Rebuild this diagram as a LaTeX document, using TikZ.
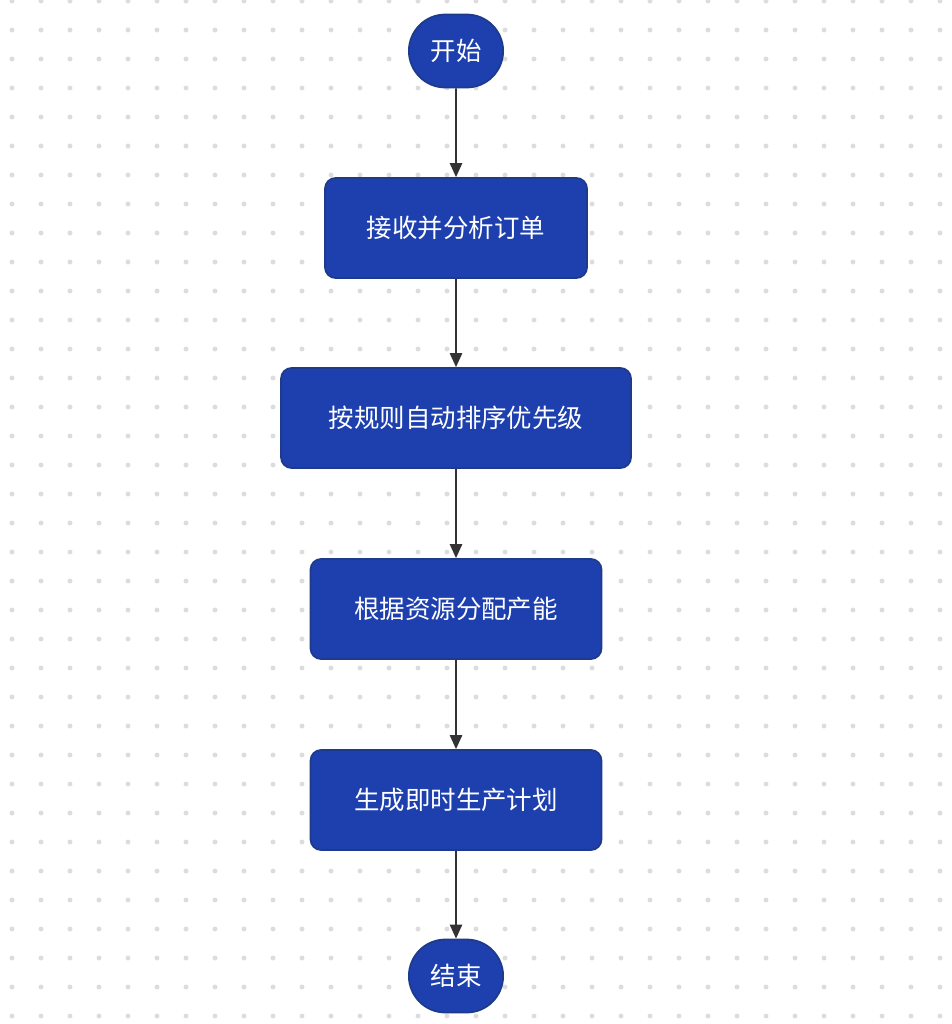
\documentclass[tikz,border=0pt]{standalone}
\usepackage{fontspec}
\newfontfamily\cjk{Noto Sans CJK SC}
\usetikzlibrary{arrows.meta}
\usetikzlibrary{shapes.misc}
\definecolor{boxblue}{HTML}{1E40AF}
\definecolor{boxedge}{HTML}{1E3A8A}
\definecolor{arrowgray}{HTML}{333333}
\definecolor{dotgray}{HTML}{DCDCDC}
\tikzset{
  procbox/.style={draw=boxedge, fill=boxblue, line width=1pt, rounded corners=6pt,
    minimum height=2cm, text=white, font=\cjk\fontsize{14.5}{17}\selectfont},
  term/.style={draw=boxedge, fill=boxblue, line width=1pt, rounded rectangle,
    minimum width=2.12cm, minimum height=1.46cm, text=white, font=\cjk\fontsize{14.5}{17}\selectfont},
  flow/.style={-{Triangle[length=8pt,width=7pt]}, draw=arrowgray, line width=1pt}
}
\begin{document}
\begin{tikzpicture}[x=0.02cm, y=-0.02cm] % pixel grid
        \fill[white] (0,0) rectangle (952,1024);
        \useasboundingbox (0,0) rectangle (952,1024);
        % dotted background
        \foreach \i in {0,...,32}
          \foreach \j in {0,...,35}
            \fill[dotgray] (12+29*\i,1+29*\j) circle (1.4pt);

        \node[term] (start) at (456,51) {开始};
        \node[procbox, minimum width=5.24cm] (recv) at (456,228) {接收并分析订单};
        \node[procbox, minimum width=7cm] (sort) at (456,418) {按规则自动排序优先级};
        \node[procbox, minimum width=5.82cm] (alloc) at (456,609) {根据资源分配产能};
        \node[procbox, minimum width=5.82cm] (plan) at (456,800) {生成即时生产计划};
        \node[term] (stop) at (456,976) {结束};

        \draw[flow] (start) -- (recv);
        \draw[flow] (recv) -- (sort);
        \draw[flow] (sort) -- (alloc);
        \draw[flow] (alloc) -- (plan);
        \draw[flow] (plan) -- (stop);
\end{tikzpicture}
\end{document}
